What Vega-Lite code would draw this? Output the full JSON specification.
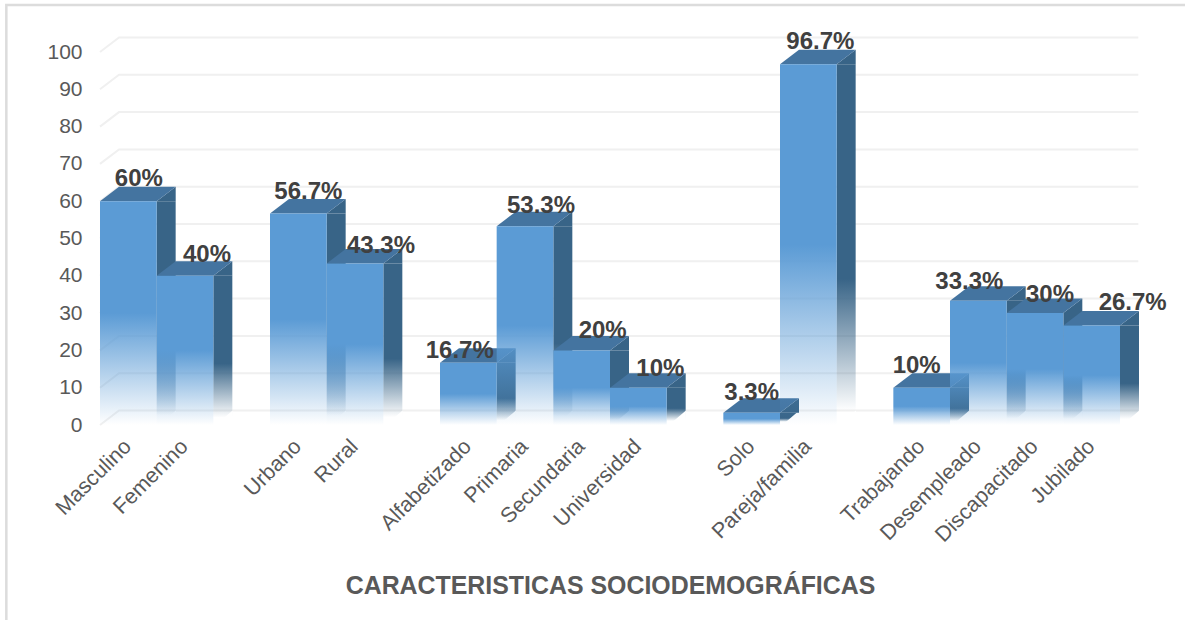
{"$schema":"https://vega.github.io/schema/vega-lite/v6.json","width":1020,"height":373,"autosize":"none","padding":{"left":100,"top":52,"right":65,"bottom":195},"background":"white","config":{"view":{"stroke":null},"font":"Liberation Sans"},
"datasets":{"bars":[{"category":"Masculino","value":60,"label":"60%"},{"category":"Femenino","value":40,"label":"40%"},{"category":"Urbano","value":56.7,"label":"56.7%"},{"category":"Rural","value":43.3,"label":"43.3%"},{"category":"Alfabetizado","value":16.7,"label":"16.7%"},{"category":"Primaria","value":53.3,"label":"53.3%"},{"category":"Secundaria","value":20,"label":"20%"},{"category":"Universidad","value":10,"label":"10%"},{"category":"Solo","value":3.3,"label":"3.3%"},{"category":"Pareja/familia","value":96.7,"label":"96.7%"},{"category":"Trabajando","value":10,"label":"10%"},{"category":"Desempleado","value":33.3,"label":"33.3%"},{"category":"Discapacitado","value":30,"label":"30%"},{"category":"Jubilado","value":26.7,"label":"26.7%"}],
"ticks":[{"category":"Masculino","value":0},{"category":"Masculino","value":10},{"category":"Masculino","value":20},{"category":"Masculino","value":30},{"category":"Masculino","value":40},{"category":"Masculino","value":50},{"category":"Masculino","value":60},{"category":"Masculino","value":70},{"category":"Masculino","value":80},{"category":"Masculino","value":90},{"category":"Masculino","value":100}],
"frame":[{"category":"Masculino","value":0}]},
"data":{"name":"bars"},
"encoding":{"x":{"field":"category","type":"nominal","sort":null,"scale":{"type":"band","domain":["Masculino","Femenino","g1","Urbano","Rural","g2","Alfabetizado","Primaria","Secundaria","Universidad","g3","Solo","Pareja/familia","g4","Trabajando","Desempleado","Discapacitado","Jubilado"],"paddingInner":0,"paddingOuter":0},"axis":{"values":["Masculino","Femenino","Urbano","Rural","Alfabetizado","Primaria","Secundaria","Universidad","Solo","Pareja/familia","Trabajando","Desempleado","Discapacitado","Jubilado"],"title":"CARACTERISTICAS SOCIODEMOGRÁFICAS","titleFont":"Liberation Sans","titleFontSize":24.9,"titleFontWeight":"bold","titleColor":"#595959","titleX":510,"titleY":161,"titleBaseline":"middle","titleAnchor":"middle","labelFont":"Liberation Sans","labelFontSize":21.5,"labelColor":"#595959","labelAngle":-45,"labelAlign":"right","labelBaseline":"middle","labelPadding":18,"ticks":false,"domain":false,"grid":false}},
"y":{"field":"value","type":"quantitative","stack":null,"scale":{"domain":[0,100],"nice":false},"axis":{"values":[0,10,20,30,40,50,60,70,80,90,100],"title":null,"labelFont":"Liberation Sans","labelFontSize":21,"labelColor":"#595959","labelPadding":18,"ticks":false,"domain":false,"grid":false}}},
"layer":[
{"data":{"name":"frame"},"mark":{"type":"point","shape":"M-122,195 L-122,-420 L1057,-420","filled":false,"size":4,"stroke":"#DCDCDC","strokeWidth":2.5,"opacity":1}},
{"data":{"name":"ticks"},"mark":{"type":"point","shape":"M-28.33,0 L-9.33,-14.5 L1010,-14.5","filled":false,"size":4,"stroke":"#F0F0F0","strokeWidth":2,"opacity":1}},
{"mark":{"type":"bar","width":19,"xOffset":37.83,"y2Offset":-3,"color":{"gradient":"linear","x1":0,"y1":0,"x2":0,"y2":1,"stops":[{"offset":0,"color":"#386487"},{"offset":0.6,"color":"#386487"},{"offset":0.97,"color":"rgba(56,100,135,0)"},{"offset":1,"color":"rgba(56,100,135,0)"}]}},"encoding":{"y2":{"datum":0}}},
{"mark":{"type":"point","shape":"M28.33,2 L47.6,-14.5 L47.6,2Z","filled":true,"size":4,"fill":"white","stroke":null,"opacity":1},"encoding":{"y":{"datum":0,"type":"quantitative"}}},
{"mark":{"type":"point","shape":"M28.33,0 L47.33,-14.5 L47.33,0Z","filled":true,"size":4,"fill":"#386487","stroke":null,"opacity":1}},
{"mark":{"type":"point","shape":"M-28.33,0 L-9.33,-14.5 L47.33,-14.5 L28.33,0Z","filled":true,"size":4,"fill":"#4474A0","stroke":null,"opacity":1}},
{"mark":{"type":"bar","color":{"gradient":"linear","x1":0,"y1":0,"x2":0,"y2":1,"stops":[{"offset":0,"color":"#5B9BD5"},{"offset":0.5,"color":"#5B9BD5"},{"offset":1,"color":"rgba(91,155,213,0)"}]}},"encoding":{"y2":{"datum":0}}},
{"transform":[{"filter":"datum.category==='Masculino'"}],"mark":{"type":"text","dx":10.5,"dy":-22,"fontSize":24,"fontWeight":"bold","color":"#404040"},"encoding":{"text":{"field":"label"}}},
{"transform":[{"filter":"datum.category==='Femenino'"}],"mark":{"type":"text","dx":22,"dy":-21,"fontSize":24,"fontWeight":"bold","color":"#404040"},"encoding":{"text":{"field":"label"}}},
{"transform":[{"filter":"datum.category==='Urbano'"}],"mark":{"type":"text","dx":10,"dy":-22,"fontSize":24,"fontWeight":"bold","color":"#404040"},"encoding":{"text":{"field":"label"}}},
{"transform":[{"filter":"datum.category==='Rural'"}],"mark":{"type":"text","dx":26,"dy":-17,"fontSize":24,"fontWeight":"bold","color":"#404040"},"encoding":{"text":{"field":"label"}}},
{"transform":[{"filter":"datum.category==='Alfabetizado'"}],"mark":{"type":"text","dx":-8.6,"dy":-12,"fontSize":24,"fontWeight":"bold","color":"#404040"},"encoding":{"text":{"field":"label"}}},
{"transform":[{"filter":"datum.category==='Primaria'"}],"mark":{"type":"text","dx":16,"dy":-20,"fontSize":24,"fontWeight":"bold","color":"#404040"},"encoding":{"text":{"field":"label"}}},
{"transform":[{"filter":"datum.category==='Secundaria'"}],"mark":{"type":"text","dx":21,"dy":-19,"fontSize":24,"fontWeight":"bold","color":"#404040"},"encoding":{"text":{"field":"label"}}},
{"transform":[{"filter":"datum.category==='Universidad'"}],"mark":{"type":"text","dx":22,"dy":-19,"fontSize":24,"fontWeight":"bold","color":"#404040"},"encoding":{"text":{"field":"label"}}},
{"transform":[{"filter":"datum.category==='Solo'"}],"mark":{"type":"text","dx":0,"dy":-20,"fontSize":24,"fontWeight":"bold","color":"#404040"},"encoding":{"text":{"field":"label"}}},
{"transform":[{"filter":"datum.category==='Pareja/familia'"}],"mark":{"type":"text","dx":12,"dy":-22,"fontSize":24,"fontWeight":"bold","color":"#404040"},"encoding":{"text":{"field":"label"}}},
{"transform":[{"filter":"datum.category==='Trabajando'"}],"mark":{"type":"text","dx":-5,"dy":-22,"fontSize":24,"fontWeight":"bold","color":"#404040"},"encoding":{"text":{"field":"label"}}},
{"transform":[{"filter":"datum.category==='Desempleado'"}],"mark":{"type":"text","dx":-9,"dy":-19,"fontSize":24,"fontWeight":"bold","color":"#404040"},"encoding":{"text":{"field":"label"}}},
{"transform":[{"filter":"datum.category==='Discapacitado'"}],"mark":{"type":"text","dx":15,"dy":-18,"fontSize":24,"fontWeight":"bold","color":"#404040"},"encoding":{"text":{"field":"label"}}},
{"transform":[{"filter":"datum.category==='Jubilado'"}],"mark":{"type":"text","dx":41,"dy":-22,"fontSize":24,"fontWeight":"bold","color":"#404040"},"encoding":{"text":{"field":"label"}}}
]}
